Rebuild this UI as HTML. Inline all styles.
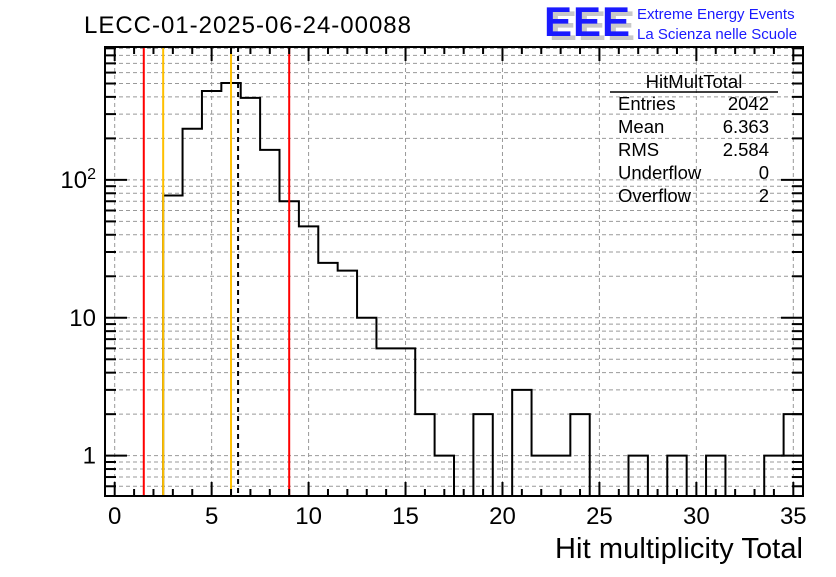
<!DOCTYPE html>
<html><head><meta charset="utf-8"><style>
body{margin:0;background:#fff;}
svg text{font-family:"Liberation Sans",sans-serif;}
</style></head><body>
<svg id="c" width="836" height="572" xmlns="http://www.w3.org/2000/svg">
<rect width="836" height="572" fill="#fff"/>
<text x="84" y="33" font-size="24" textLength="327">LECC-01-2025-06-24-00088</text>
<g>
<text x="549" y="40" font-size="42" font-weight="bold" fill="#c8c8c8" letter-spacing="1">EEE</text>
<text x="544" y="36" font-size="42" font-weight="bold" fill="#1a1aff" letter-spacing="1">EEE</text>
<text x="637" y="19" font-size="15" fill="#1a1aff">Extreme Energy Events</text>
<text x="637" y="39" font-size="15" fill="#1a1aff">La Scienza nelle Scuole</text>
</g>
<g id="grid"></g>
<g id="marks"></g>
<g id="axes"></g>
<rect x="105" y="47" width="698" height="449" fill="none" stroke="#000" stroke-width="2"/>
<g font-size="18.5">
<text x="694" y="88" text-anchor="middle">HitMultTotal</text>
<line x1="610" y1="92" x2="778" y2="92" stroke="#000" stroke-width="1.5"/>
<text x="618" y="110">Entries</text><text x="769" y="110" text-anchor="end">2042</text>
<text x="618" y="133">Mean</text><text x="769" y="133" text-anchor="end">6.363</text>
<text x="618" y="156">RMS</text><text x="769" y="156" text-anchor="end">2.584</text>
<text x="618" y="179">Underflow</text><text x="769" y="179" text-anchor="end">0</text>
<text x="618" y="202">Overflow</text><text x="769" y="202" text-anchor="end">2</text>
</g>
<text x="555" y="558" font-size="29" textLength="248">Hit multiplicity Total</text>
</svg>
<script>
const binCenters=[3,4,5,6,7,8,9,10,11,12,13,14,15,16,17,18,19,20,21,22,23,24,25,26,27,28,29,30,31,32,33,34,35];
const counts=[77,235,441,504,393,165,70,46,25,22,10,6,6,2,1,0,2,0,3,1,1,2,0,0,1,0,1,0,1,0,0,1,2];
const xTickLabels=[0,5,10,15,20,25,30,35];
const yTickLabels=[1,10,100];
const refLines=[{v:1.5,c:"#ff0000",d:""},{v:2.5,c:"#ffc000",d:""},{v:6.0,c:"#ffc000",d:""},{v:6.363,c:"#000",d:"5,4"},{v:9.0,c:"#ff0000",d:""}];
const X0=105,X1=803,Y0=47,Y1=496,xmin=-0.5,xmax=35.5;
const ymin=Math.log10(0.51),ymax=Math.log10(920);
const sx=v=>X0+(v-xmin)/(xmax-xmin)*(X1-X0);
const sy=v=>Y1-(Math.log10(v)-ymin)/(ymax-ymin)*(Y1-Y0);
const NS="http://www.w3.org/2000/svg";
function mk(t,a,p){const e=document.createElementNS(NS,t);for(const k in a)e.setAttribute(k,a[k]);p.appendChild(e);return e;}
const grid=document.getElementById('grid'),marks=document.getElementById('marks'),axes=document.getElementById('axes');
for(const t of xTickLabels){const l=mk('line',{x1:sx(t),x2:sx(t),y1:Y0,y2:Y1,stroke:'#999','stroke-dasharray':'4,3','stroke-width':1},grid);

}
for(let d=0.1;d<1000;d*=10){for(let m=1;m<10;m++){const v=d*m;if(v<0.51||v>920)continue;const y=sy(v);
const l=mk('line',{x1:X0,x2:X1,y1:y,y2:y,stroke:'#999','stroke-dasharray':'4,3','stroke-width':1},grid);


const big=m===1;
for(const [x,dir] of [[X0,1],[X1,-1]]){const tk=mk('line',{x1:x,x2:x+dir*(big?22:11),y1:y,y2:y,stroke:'#000','stroke-width':2},axes);

}}}
for(let v=0;v<=35;v++){const big=v%5===0;const x=sx(v);
for(const [y,dir] of [[Y1,-1],[Y0,1]]){const tk=mk('line',{x1:x,x2:x,y1:y,y2:y+dir*(big?14:7),stroke:'#000','stroke-width':2},axes);

}}
for(const t of xTickLabels){const tx=mk('text',{x:sx(t),y:524,'font-size':24,'text-anchor':'middle'},axes);tx.textContent=t;

}
for(const t of yTickLabels){const tx=mk('text',{x:96,y:sy(t)+8,'font-size':24,'text-anchor':'end'},axes);
if(t===100){tx.textContent='10';const s=mk('tspan',{dy:-9,'font-size':16},tx);s.textContent='2';}else tx.textContent=t;

}
let d='';
binCenters.forEach((c,i)=>{const v=counts[i];const xl=sx(c-0.5),xr=sx(c+0.5);
const yv=v>0?sy(v):Y1;
if(i===0)d+=`M${xl},${Y1}`;
d+=` L${xl},${yv} L${xr},${yv}`;});
d+=` L${sx(35.5)},${Y1}`;
const h=mk('path',{d:d,fill:'none',stroke:'#000','stroke-width':2},marks);


for(const r of refLines){const l=mk('line',{x1:sx(r.v),x2:sx(r.v),y1:Y0,y2:Y1,stroke:r.c,'stroke-width':2,'stroke-dasharray':r.d},marks);

}
</script>
</body></html>
